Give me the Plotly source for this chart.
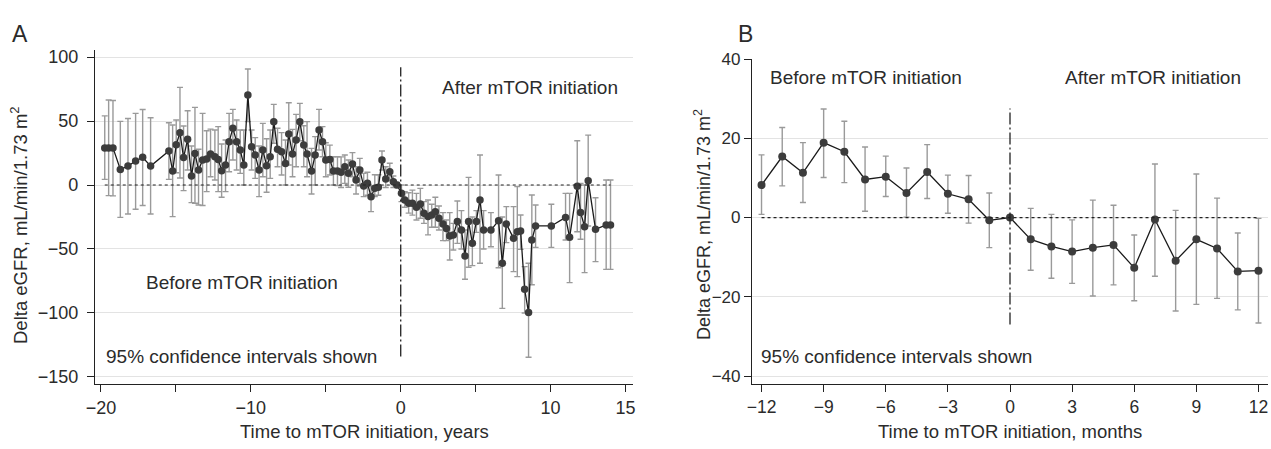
import plotly.graph_objects as go

# ---------------- Panel A data (years) ----------------
a_t = [-19.75, -19.49, -19.2, -18.71, -18.2, -17.69, -17.22, -16.69,
       -15.47, -15.22, -14.98, -14.73, -14.49, -14.22, -13.96, -13.73, -13.49, -13.22,
       -12.95, -12.69, -12.4, -12.18, -11.95, -11.69, -11.45, -11.2, -10.95, -10.71,
       -10.47, -10.2, -9.95, -9.71, -9.45, -9.2, -8.95, -8.71, -8.47, -8.22, -7.95,
       -7.69, -7.47, -7.22, -6.98, -6.73, -6.47, -6.25, -5.95, -5.71, -5.45, -5.22,
       -5.0, -4.73, -4.49, -4.22, -3.98, -3.73, -3.49, -3.22, -2.98, -2.73, -2.47,
       -2.22, -1.98, -1.73, -1.49, -1.25, -1.0, -0.73, -0.49, -0.25,
       0.05, 0.27, 0.53, 0.78, 1.05, 1.31, 1.55, 1.82, 2.07, 2.31, 2.55, 2.82, 3.05,
       3.27, 3.51, 3.78, 4.05, 4.29, 4.53, 4.78, 5.05, 5.29, 5.53, 6.02, 6.53, 6.78,
       7.05, 7.53, 7.78, 8.0, 8.27, 8.53, 8.75, 9.0, 10.05, 11.0, 11.27, 11.78, 12.0,
       12.27, 12.51, 13.0, 13.71, 14.0]
a_v = [29, 29, 29, 12.2, 14.8, 18.8, 21.6, 14.8,
       26.6, 10.9, 31.5, 40.9, 21.4, 35.7, 7, 24.7, 11.7, 19.5,
       20.3, 24.2, 22.1, 20, 11.2, 15.6, 33.9, 44.3, 33.9, 27.3,
       15.6, 70.3, 29.9, 23.4, 11.7, 27.3, 15.1, 22.1, 49.5, 27.9, 26,
       16.9, 39.8, 24.2, 35.2, 49.5, 31.2, 24.2, 10.9, 23.4, 43, 33.9,
       19.5, 20, 10.9, 10.9, 9.9, 14.3, 9.1, 16.4, 3.9, 11.7, -0.8,
       1.3, -9.1, -2.6, -1.8, 19.5, 4.7, 10.4, 2.6, 0,
       -6.5, -11.7, -14.3, -14.3, -17.4, -14.8, -22.1, -24.7, -23.4, -20.8, -26, -30.5, -33.9,
       -39.8, -39, -28.6, -35.2, -55.5, -28.6, -45.6, -28.6, -11.7, -35.2, -35.2, -27.9, -61.2,
       -30.5, -41.7, -36.5, -35.9, -81.5, -99.7, -43, -32, -32, -25.3, -40.9, -1, -21.4,
       -32.6, 3.4, -34.6, -31.2, -31.2]
a_lo = [4.4, -8.3, -8.5, -25.3, -22.7, -19, -16, -22.7,
        4.4, -24.7, 9.6, 5.5, -4.4, 11.7, -13.8, -14.3, -15.6, -16,
        -5.2, 6.5, 3.9, -5.2, -9.6, -5.2, 10.4, 19.5, 11.7, 9.1,
        0, 49.5, 11.7, 5.2, -9.1, 6.5, -5.7, 5.2, 32.6, 14.3, 7.8,
        0, 15.6, 6.5, 14.3, 34.6, 14.3, 6.5, -7, 0, 27.3, 22.1,
        6.5, 7.8, 0, -0.5, -2, 1.3, -1.8, 6.5, -7, -0.8, -9.1,
        -8, -20.8, -9, -8, 11.7, -2, 3.4, -2, -2,
        -13, -17.4, -22, -23.5, -27.3, -26, -30, -39, -33, -33, -35.2, -43.5, -43.5,
        -58.6, -50.8, -45.6, -50, -73.7, -64.3, -63, -37, -61.2, -50, -48.2, -64.6, -96.4,
        -45, -67.7, -71.6, -50.3, -100, -134.6, -78, -48.7, -48.7, -43, -76.3, -36.5, -42.4,
        -68.5, -32, -59.9, -65.9, -65.9]
a_hi = [54, 66.4, 66, 49.7, 52, 56, 59, 52.6,
        48.7, 46.9, 50.8, 76.3, 46.1, 58, 30.5, 60.7, 27.9, 56,
        42.4, 43.7, 43, 45.6, 32, 35.2, 56, 59.1, 50.8, 43,
        43, 90.6, 43, 37, 30.5, 48.2, 36.2, 43, 63, 44.3, 40.9,
        35.2, 64.3, 43.5, 55.2, 63.8, 46.3, 49.5, 28.6, 37.8, 59.1, 45.6,
        33, 31.2, 22.1, 22.1, 22, 23.4, 19.5, 25.3, 14.3, 20.8, 9.1,
        10, -1.3, 8, 8, 26.6, 14.3, 17, 7, 2,
        0, -5.2, -6, -4, -6.5, -2.6, -13, -11.7, -15, -9.6, -16.4, -21.6, -27.3,
        -21.6, -30, -12.5, -20, -35.2, 6, -25, -20, 23.4, -20, -21.6, 7.8, -25,
        -16.9, -16.9, -1.3, -23.4, -63.8, -61.2, -7.8, -15.6, -15, -6.5, -6.5, 34.6, 1.3,
        0, 39, -9.9, 3.9, 3.9]

# ---------------- Panel B data (months) ----------------
b_m = list(range(-12, 13))
b_v = [8.2, 15.4, 11.3, 18.9, 16.6, 9.6, 10.3, 6.2, 11.5, 6.0, 4.6, -0.7, 0,
       -5.5, -7.3, -8.6, -7.6, -6.9, -12.7, -0.5, -10.9, -5.5, -7.8, -13.6, -13.4]
b_lo = [0.8, 8.0, 3.8, 10.1, 8.8, 1.6, 5.3, 0.1, 4.8, 1.1, -1.4, -7.6, 0,
        -13.3, -15.3, -16.6, -19.8, -17.0, -21.0, -14.8, -23.6, -21.9, -20.4, -23.3, -26.6]
b_hi = [15.8, 22.7, 18.9, 27.4, 24.3, 17.8, 15.5, 12.5, 18.4, 10.7, 10.6, 6.2, 0,
        2.3, 0.8, -0.6, 4.4, 3.1, -4.4, 13.5, 1.8, 11.0, 4.9, -3.9, -0.2]

a_xticks = [-20, -10, 0, 10, 15]
a_yticks = [-150, -100, -50, 0, 50, 100]
b_xticks = [-12, -9, -6, -3, 0, 3, 6, 9, 12]
b_yticks = [-40, -20, 0, 20, 40]
a_vline = (-134, 92)
b_vline = (-27, 27.5)

W, H = 1271, 449
def px(x):
    return x / W
def py(y):
    return 1 - y / H

FONT = "Liberation Sans, Arial, Helvetica, sans-serif"
TXT = "#2b2b2b"
ERR = "#9a9a9a"
MARK = "#3c3c3c"

fig = go.Figure()

def add_series(t, v, lo, hi, xa, ya, msize):
    fig.add_trace(go.Scatter(
        x=t, y=v, mode="lines+markers", xaxis=xa, yaxis=ya, cliponaxis=False,
        line=dict(color="#1a1a1a", width=1.3),
        marker=dict(color=MARK, size=msize),
        error_y=dict(type="data", symmetric=False,
                     array=[h - m for h, m in zip(hi, v)],
                     arrayminus=[m - l for m, l in zip(v, lo)],
                     color=ERR, thickness=1.4, width=3),
        showlegend=False, hoverinfo="x+y"))

add_series(a_t, a_v, a_lo, a_hi, "x", "y", 7.5)
add_series(b_m, b_v, b_lo, b_hi, "x2", "y2", 8)

def axis_style(ticklen, fsize):
    return dict(showline=True, linecolor="#222", linewidth=1.2, ticks="outside",
                ticklen=ticklen, tickwidth=1.2, tickcolor="#222", zeroline=False,
                automargin=False,
                tickfont=dict(family=FONT, size=fsize, color=TXT))

fig.update_layout(
    width=W, height=H, margin=dict(l=0, r=0, t=0, b=0, autoexpand=False),
    paper_bgcolor="white", plot_bgcolor="white",
    font=dict(family=FONT, color=TXT),
    xaxis=dict(domain=[px(95), px(633)], range=[-20.4, 15.5], anchor="y",
               tickvals=a_xticks, showgrid=False,
               minor=dict(tick0=0, dtick=5, ticks="outside", ticklen=7, tickwidth=1.2,
                          tickcolor="#222", showgrid=False),
               **axis_style(7, 18)),
    yaxis=dict(domain=[py(384), py(50)], range=[-155.5, 105.5], anchor="x",
               tickvals=a_yticks, showgrid=True, gridcolor="#e3e3e3", gridwidth=1.2,
               ticklabelstandoff=5, **axis_style(7, 18)),
    xaxis2=dict(domain=[px(752), px(1268)], range=[-12.46, 12.46], anchor="y2",
                tickvals=b_xticks, showgrid=False, **axis_style(7, 17.5)),
    yaxis2=dict(domain=[py(384), py(59)], range=[-42, 40], anchor="x2",
                tickvals=b_yticks, showgrid=True, gridcolor="#e3e3e3", gridwidth=1.2,
                ticklabelstandoff=0, **axis_style(7, 17)),
)

shapes = [
    dict(type="line", xref="x", yref="y", x0=a_t[0], x1=a_t[-1], y0=0, y1=0,
         line=dict(color="#222", width=1.2, dash="dot")),
    dict(type="line", xref="x", yref="y", x0=0, x1=0, y0=a_vline[0], y1=a_vline[1],
         line=dict(color="#222", width=1.3, dash="12px,3px,2px,3px")),
    dict(type="line", xref="x2", yref="y2", x0=b_m[0], x1=b_m[-1], y0=0, y1=0,
         line=dict(color="#222", width=1.2, dash="dot")),
    dict(type="line", xref="x2", yref="y2", x0=0, x1=0, y0=b_vline[0], y1=b_vline[1],
         line=dict(color="#222", width=1.3, dash="12px,3px,2px,3px")),
]
fig.update_layout(shapes=shapes)

def ann(text, x, y, size=19, angle=0, xanchor="center"):
    fig.add_annotation(text=text, x=px(x), y=py(y), xref="paper", yref="paper",
                       showarrow=False, textangle=angle, xanchor=xanchor, yanchor="middle",
                       font=dict(family=FONT, size=size, color=TXT))

ann("A", 10, 34, size=23, xanchor="left")
ann("B", 736, 34, size=23, xanchor="left")
ann("After mTOR initiation", 530, 88)
ann("Before mTOR initiation", 242, 282)
ann("95% confidence intervals shown", 104, 356, xanchor="left")
ann("Before mTOR initiation", 768, 77, xanchor="left")
ann("After mTOR initiation", 1063, 77, xanchor="left")
ann("95% confidence intervals shown", 759, 356, xanchor="left")
ann("Time to mTOR initiation, years", 364, 431, size=18.5)
ann("Time to mTOR initiation, months", 1010, 431, size=18.5)
ann("Delta eGFR, mL/min/1.73 m<sup>2</sup>", 19, 225, size=18.5, angle=-90)
ann("Delta eGFR, mL/min/1.73 m<sup>2</sup>", 702, 225, size=18, angle=-90)

fig.write_html("out.html", config={"displayModeBar": False},
               post_script="document.body.style.margin='0';")
